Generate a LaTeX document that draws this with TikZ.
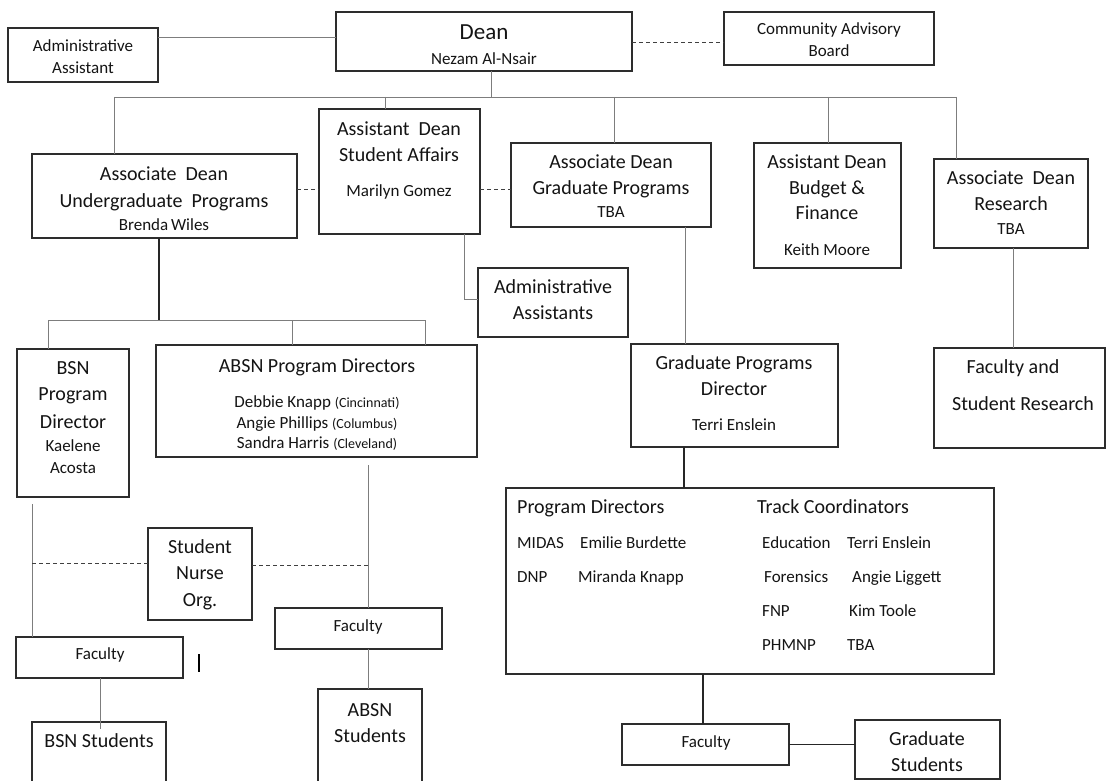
\documentclass[tikz,border=0pt]{standalone}
\usepackage{fontspec}
\setmainfont{Carlito}
\definecolor{boxline}{RGB}{45,45,45}
\definecolor{connline}{RGB}{125,125,125}
\definecolor{txt}{RGB}{20,20,20}
\newcommand{\orgbox}[5]{\node[orgbox, minimum width={(#4-#2)*1pt}, minimum height={(#5-#3)*1pt}] (#1) at ({(#2+#4)/2},{(#3+#5)/2}) {};}
\begin{document}
\begin{tikzpicture}[x=1pt,y=-1pt,
  orgbox/.style={draw=boxline, line width=1.1pt, inner sep=0pt, outer sep=0pt, rectangle},
  big/.style={inner sep=0pt, text=txt, font=\fontsize{20}{24}\selectfont, text height=13pt, text depth=0pt},
  small/.style={inner sep=0pt, text=txt, font=\fontsize{17}{20}\selectfont, text height=11pt, text depth=0pt},
  deanfont/.style={inner sep=0pt, text=txt, font=\fontsize{23}{27}\selectfont, text height=15pt, text depth=0pt},
  conn/.style={draw=connline, line width=0.9pt},
  dconn/.style={draw=black!85, line width=1.2pt},
  dsh/.style={conn, draw=black!75, dash pattern=on 4pt off 3pt}]
\useasboundingbox[fill=white] (0,0) rectangle (1106,781);

% ---------- boxes ----------
\orgbox{adm}{8}{28}{158}{82}
\orgbox{dean}{336}{12}{632}{71}
\orgbox{cab}{724}{12}{934}{65}
\orgbox{ug}{32}{154}{297}{238}
\orgbox{sa}{319}{109}{480}{234}
\orgbox{grad}{511}{143}{711}{227}
\orgbox{bud}{754}{143}{901}{268}
\orgbox{res}{934}{159}{1088}{248}
\orgbox{fsr}{934}{348}{1105}{448}
\orgbox{aa}{478}{268}{628}{337}
\orgbox{gpd}{631}{344}{838}{447}
\orgbox{bsn}{17}{349}{129}{497}
\orgbox{absn}{156}{345}{477}{457}
\orgbox{prog}{506}{488}{994}{674}
\orgbox{sno}{148}{528}{252}{620}
\orgbox{facb}{16}{637}{183}{678}
\orgbox{faca}{275}{608}{442}{649}
\orgbox{bsns}{32}{722}{166}{795}
\orgbox{absns}{318}{689}{422}{795}
\orgbox{facg}{622}{724}{789}{765}
\orgbox{grs}{855}{720}{1000}{779}

% ---------- texts ----------
\node[small] (adm1) at (83,46) {Administrative};
\node[small] (adm2) at (83,68) {Assistant};
\node[deanfont] (dean1) at (484,32) {Dean};
\node[small] (dean2) at (484,59) {Nezam Al-Nsair};
\node[small] (cab1) at (829,29) {Community Advisory};
\node[small] (cab2) at (829,51) {Board};
\node[big] (ug1) at (164,174) {Associate\ \ Dean};
\node[big] (ug2) at (164,201) {Undergraduate\ \ Programs};
\node[small] (ug3) at (164,225) {Brenda\,Wiles};
\node[big] (sa1) at (399,129) {Assistant\ \ Dean};
\node[big] (sa2) at (399,155) {Student Affairs};
\node[small] (sa3) at (399,191) {Marilyn Gomez};
\node[big] (gr1) at (611,162) {Associate Dean};
\node[big] (gr2) at (611,188) {Graduate Programs};
\node[small] (gr3) at (611,212) {TBA};
\node[big] (bu1) at (827,162) {Assistant Dean};
\node[big] (bu2) at (827,188) {Budget \&};
\node[big] (bu3) at (827,213) {Finance};
\node[small] (bu4) at (827,250) {Keith Moore};
\node[big] (re1) at (1011,178) {Associate\ \ Dean};
\node[big] (re2) at (1011,204) {Research};
\node[small] (re3) at (1011,229) {TBA};
\node[big] (fs1) at (1013,367) {Faculty and};
\node[big] (fs2) at (1023,404) {Student Research};
\node[big] (aa1) at (553,287) {Administrative};
\node[big] (aa2) at (553,313) {Assistants};
\node[big] (gp1) at (734,363) {Graduate Programs};
\node[big] (gp2) at (734,389) {Director};
\node[small] (gp3) at (734,425) {Terri Enslein};
\node[big] (bs1) at (73,368) {BSN};
\node[big] (bs2) at (73,394) {Program};
\node[big] (bs3) at (73,422) {Director};
\node[small] (bs4) at (73,446) {Kaelene};
\node[small] (bs5) at (73,468) {Acosta};
\node[big] (ab1) at (317,366) {ABSN Program Directors};
\node[small] (ab2) at (317,402) {Debbie Knapp {\fontsize{14}{16}\selectfont(Cincinnati)}};
\node[small] (ab3) at (317,423) {Angie Phillips {\fontsize{14}{16}\selectfont(Columbus)}};
\node[small] (ab4) at (317,443) {Sandra Harris {\fontsize{14}{16}\selectfont(Cleveland)}};
\node[big, anchor=west] (pd0) at (517,507) {Program Directors};
\node[big, anchor=west] (tc0) at (757,507) {Track Coordinators};
\node[small, anchor=west] (pd1a) at (517,543) {MIDAS};
\node[small, anchor=west] (pd1b) at (580,543) {Emilie Burdette};
\node[small, anchor=west] (pd2a) at (517,577) {DNP};
\node[small, anchor=west] (pd2b) at (578,577) {Miranda Knapp};
\node[small, anchor=west] (tc1a) at (762,543) {Education};
\node[small, anchor=west] (tc1b) at (847,543) {Terri Enslein};
\node[small, anchor=west] (tc2a) at (764,577) {Forensics};
\node[small, anchor=west] (tc2b) at (852,577) {Angie Liggett};
\node[small, anchor=west] (tc3a) at (762,611) {FNP};
\node[small, anchor=west] (tc3b) at (849,611) {Kim Toole};
\node[small, anchor=west] (tc4a) at (762,645) {PHMNP};
\node[small, anchor=west] (tc4b) at (847,645) {TBA};
\node[big] (sn1) at (200,547) {Student};
\node[big] (sn2) at (200,573) {Nurse};
\node[big] (sn3) at (200,600) {Org.};
\node[small] (fb1) at (100,654) {Faculty};
\node[small] (fa1) at (358,626) {Faculty};
\node[big] (bst1) at (99,741) {BSN Students};
\node[big] (ast1) at (370,710) {ABSN};
\node[big] (ast2) at (370,736) {Students};
\node[small] (fg1) at (706,742) {Faculty};
\node[big] (gs1) at (927,739) {Graduate};
\node[big] (gs2) at (927,765) {Students};

% ---------- connectors ----------
\coordinate (busL) at (114,97);
\coordinate (busR) at (956,97);
\coordinate (ugbus) at (159,320);
\coordinate (barT) at (199,654);
\coordinate (barB) at (199,672);

\draw[conn] (adm.east |- 0,37) -- (dean.west |- 0,37);
\draw[dsh] (dean.east |- 0,42) -- (cab.west |- 0,42);
\draw[conn] (dean.south -| 491,0) -- (491,97);
\draw[conn] (busL) -- (busR);
\draw[conn] (busL) -- (ug.north -| busL);
\draw[conn] (385,97) -- (sa.north -| 385,0);
\draw[conn] (614,97) -- (grad.north -| 614,0);
\draw[conn] (828,97) -- (bud.north -| 828,0);
\draw[conn] (busR) -- (res.north -| busR);
\draw[dsh] (ug.east |- 0,189) -- (sa.west |- 0,189);
\draw[dsh] (sa.east |- 0,189) -- (grad.west |- 0,189);
\draw[conn] (sa.south -| 464,0) |- (aa.west |- 0,299);
\draw[conn] (grad.south -| 685,0) -- (gpd.north -| 685,0);
\draw[dconn] (gpd.south -| 684,0) -- (prog.north -| 684,0);
\draw[conn] (res.south -| 1013,0) -- (fsr.north -| 1013,0);
\draw[dconn, line width=1.6pt] (ug.south -| ugbus) -- (ugbus);
\draw[conn] (48,320) -- (425,320);
\draw[conn] (48,320) -- (bsn.north -| 48,0);
\draw[conn] (292,320) -- (absn.north -| 292,0);
\draw[conn] (425,320) -- (absn.north -| 425,0);
\draw[conn, shorten <=7pt] (bsn.south -| 32,0) -- (facb.north -| 32,0);
\draw[conn, shorten <=8pt] (absn.south -| 368,0) -- (faca.north -| 368,0);
\draw[dsh] (32,563) -- (sno.west |- 0,563);
\draw[dsh] (sno.east |- 0,565) -- (368,565);
\draw[conn] (facb.south -| 100,0) -- (100,729);
\draw[conn] (faca.south -| 368,0) -- (absns.north -| 368,0);
\draw[dconn] (prog.south -| 703,0) -- (facg.north -| 703,0);
\draw[dconn, line width=1pt] (facg.east |- 0,744) -- (grs.west |- 0,744);
\draw[black, line width=1.3pt] (barT) -- (barB);
\end{tikzpicture}
\end{document}
